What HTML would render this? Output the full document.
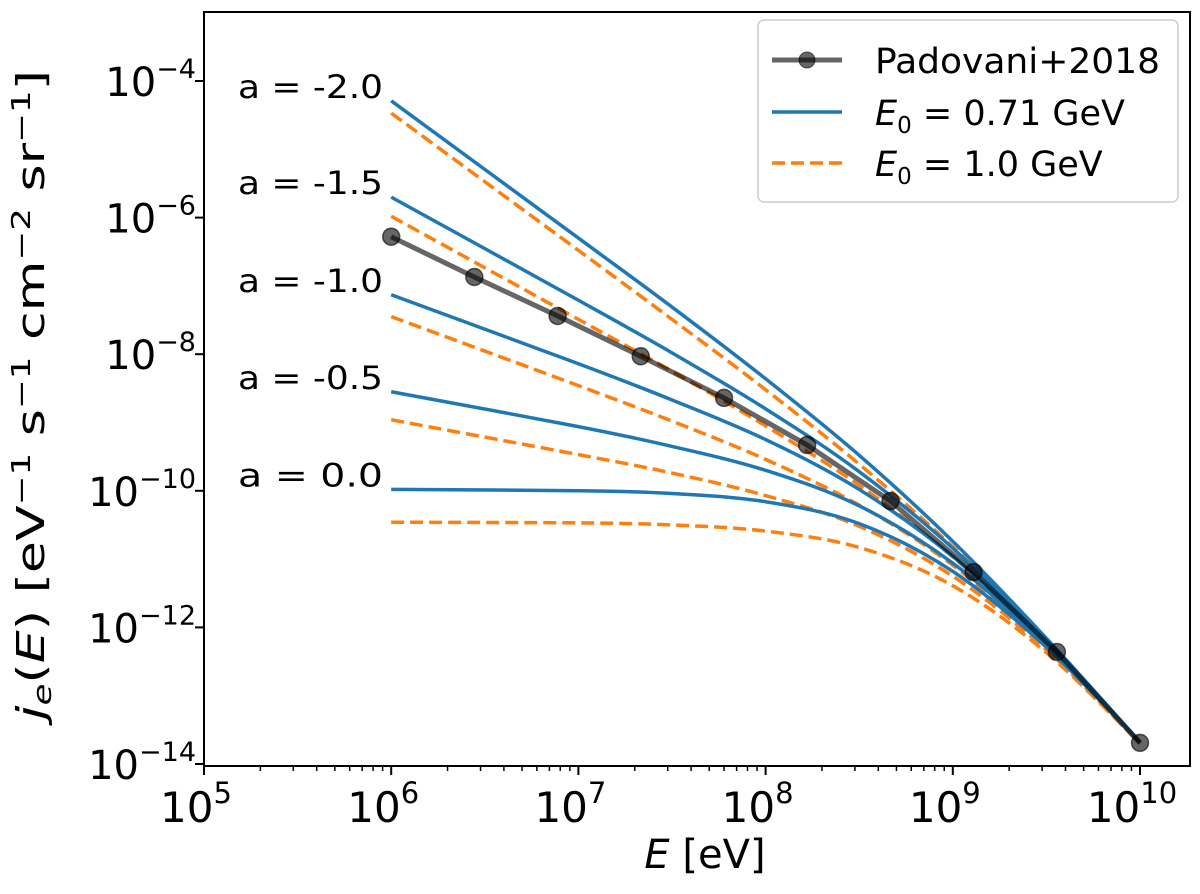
<!DOCTYPE html>
<html><head><meta charset="utf-8"><style>
body{margin:0;background:#fff}
svg{font-family:"DejaVu Sans","Liberation Sans",sans-serif}
</style></head><body>
<svg id="chart" width="1200" height="889" viewBox="0 0 1200 889" xmlns="http://www.w3.org/2000/svg">
<rect width="1200" height="889" fill="#fff"/>
<g id="plot"></g>
<g id="axes"></g>
<g id="legend">
  <rect x="758" y="20" width="420" height="182" rx="6" fill="#fff" fill-opacity="0.85" stroke="#ccc" stroke-width="1.5"/>
  <line x1="772" y1="60" x2="842" y2="60" stroke="#000" stroke-opacity="0.6" stroke-width="5"/>
  <circle cx="807" cy="60" r="8" fill="#000" fill-opacity="0.6" stroke="#000" stroke-opacity="0.6"/>
  <text x="875" y="73" font-size="35" textLength="285" lengthAdjust="spacingAndGlyphs">Padovani+2018</text>
  <line x1="772" y1="112" x2="842" y2="112" stroke="#1f77b4" stroke-width="3.5"/>
  <text x="875" y="125" font-size="35"><tspan font-style="italic">E</tspan><tspan font-size="23" dy="8">0</tspan><tspan dy="-8"> = 0.71 GeV</tspan></text>
  <line x1="772" y1="163" x2="842" y2="163" stroke="#ff7f0e" stroke-width="3.5" stroke-dasharray="13,6"/>
  <text x="875" y="176" font-size="35"><tspan font-style="italic">E</tspan><tspan font-size="23" dy="8">0</tspan><tspan dy="-8"> = 1.0 GeV</tspan></text>
</g>
<text x="705" y="868" font-size="40" text-anchor="middle"><tspan font-style="italic">E</tspan> [eV]</text>
<text transform="translate(44,395) rotate(-90)" font-size="38" text-anchor="middle" textLength="650" lengthAdjust="spacingAndGlyphs"><tspan font-style="italic">j</tspan><tspan font-style="italic" font-size="26" dy="7">e</tspan><tspan dy="-7">(</tspan><tspan font-style="italic">E</tspan>) [eV<tspan font-size="26" dy="-14">−1</tspan><tspan dy="14"> s</tspan><tspan font-size="26" dy="-14">−1</tspan><tspan dy="14"> cm</tspan><tspan font-size="26" dy="-14">−2</tspan><tspan dy="14"> sr</tspan><tspan font-size="26" dy="-14">−1</tspan><tspan dy="14">]</tspan></text>
</svg>
<script>
const xGrid = [6, 7, 7.5, 8, 8.5, 9, 9.5, 10];
const aLabels = ["a = -2.0", "a = -1.5", "a = -1.0", "a = -0.5", "a = 0.0"];
const blueA2 = [-4.29, -6.30, -7.31, -8.36, -9.48, -10.74, -12.16, -13.68];
const blueA15 = [-5.70, -7.21, -7.98, -8.80, -9.72, -10.84, -12.19, -13.68];
const blueA1 = [-7.13, -8.14, -8.67, -9.25, -9.98, -10.96, -12.22, -13.68];
const blueA05 = [-8.55, -9.06, -9.35, -9.70, -10.22, -11.06, -12.26, -13.68];
const blueA0 = [-9.98, -10.00, -10.04, -10.16, -10.48, -11.18, -12.29, -13.68];
const orangeA2 = [-4.47, -6.48, -7.49, -8.52, -9.61, -10.82, -12.19, -13.70];
const orangeA15 = [-5.98, -7.49, -8.25, -9.05, -9.92, -10.97, -12.24, -13.70];
const orangeA1 = [-7.45, -8.46, -8.98, -9.54, -10.21, -11.09, -12.28, -13.70];
const orangeA05 = [-8.96, -9.47, -9.74, -10.07, -10.52, -11.25, -12.33, -13.70];
const orangeA0 = [-10.46, -10.47, -10.50, -10.59, -10.83, -11.39, -12.37, -13.70];
const padX = [6, 6.444, 6.889, 7.333, 7.778, 8.222, 8.667, 9.111, 9.556, 10];
const padY = [-6.28, -6.87, -7.44, -8.03, -8.64, -9.33, -10.15, -11.19, -12.36, -13.69];
const xTicks = [5, 6, 7, 8, 9, 10];
const yTicks = [-4, -6, -8, -10, -12, -14];

const NS = "http://www.w3.org/2000/svg";
const L = 204, R = 1190, T = 12, B = 766;
const X = v => 204 + (v - 5) * 187.2;
const Y = v => 81 + (-4 - v) * 68.3;
function mk(tag, attrs, parent) { const e = document.createElementNS(NS, tag); for (const k in attrs) e.setAttribute(k, attrs[k]); parent.appendChild(e); return e; }
const plot = document.getElementById('plot'), axes = document.getElementById('axes');

function smoothPath(xs, ys) {
  const p = xs.map((x, i) => [X(x), Y(ys[i])]);
  let d = `M${p[0][0]},${p[0][1]}`;
  for (let i = 0; i < p.length - 1; i++) {
    const p0 = p[Math.max(0, i - 1)], p1 = p[i], p2 = p[i + 1], p3 = p[Math.min(p.length - 1, i + 2)];
    const c1 = [p1[0] + (p2[0] - p0[0]) / 6, p1[1] + (p2[1] - p0[1]) / 6];
    const c2 = [p2[0] - (p3[0] - p1[0]) / 6, p2[1] - (p3[1] - p1[1]) / 6];
    d += ` C${c1[0]},${c1[1]} ${c2[0]},${c2[1]} ${p2[0]},${p2[1]}`;
  }
  return d;
}
const blues = [blueA2, blueA15, blueA1, blueA05, blueA0];
const oranges = [orangeA2, orangeA15, orangeA1, orangeA05, orangeA0];
const names = ["a-neg2", "a-neg1-5", "a-neg1", "a-neg0-5", "a-0"];
oranges.forEach((s, i) => {
  const e = mk('path', { d: smoothPath(xGrid, s), fill: 'none', stroke: '#ff7f0e', 'stroke-width': 3.5, 'stroke-dasharray': '13,6' }, plot);
  
  
});
blues.forEach((s, i) => {
  const e = mk('path', { d: smoothPath(xGrid, s), fill: 'none', stroke: '#1f77b4', 'stroke-width': 3.5 }, plot);
  
  
});
const pl = mk('polyline', { points: padX.map((x, i) => X(x) + ',' + Y(padY[i])).join(' '), fill: 'none', stroke: '#000', 'stroke-opacity': 0.6, 'stroke-width': 5 }, plot);


padX.forEach((x, i) => {
  const c = mk('circle', { cx: X(x), cy: Y(padY[i]), r: 8.5, fill: '#000', 'fill-opacity': 0.6, stroke: '#000', 'stroke-opacity': 0.6, 'stroke-width': 1.5 }, plot);
  
  
});
aLabels.forEach((t, i) => {
  const e = mk('text', { x: 238, y: Y(blues[i][0]) - 3, 'font-size': 32, textLength: 145, lengthAdjust: 'spacingAndGlyphs' }, plot);
  e.textContent = t;
  
  
});
const fr = mk('rect', { x: L, y: T, width: R - L, height: B - T, fill: 'none', stroke: '#000', 'stroke-width': 2 }, axes);


xTicks.forEach(v => {
  const t = mk('line', { x1: X(v), x2: X(v), y1: B, y2: B + 9, stroke: '#000', 'stroke-width': 2 }, axes);
  
  
  const tx = mk('text', { x: X(v) - 8, y: B + 56, 'font-size': 42, 'text-anchor': 'middle' }, axes);
  
  
  tx.innerHTML = '10<tspan font-size="29" dy="-19">' + v + '</tspan>';
  for (let m = 2; m <= 9; m++) {
    const xm = X(v + Math.log10(m));
    if (xm > R) continue;
    const mt = mk('line', { x1: xm, x2: xm, y1: B, y2: B + 5, stroke: '#000', 'stroke-width': 1.5 }, axes);
    
    
  }
});
yTicks.forEach(v => {
  const t = mk('line', { x1: L - 9, x2: L, y1: Y(v), y2: Y(v), stroke: '#000', 'stroke-width': 2 }, axes);
  
  
  const tx = mk('text', { x: 196, y: Y(v) + 15, 'font-size': 40, 'text-anchor': 'end' }, axes);
  
  
  tx.innerHTML = '10<tspan font-size="27" dy="-18">−' + (-v) + '</tspan>';
});
</script>
</body></html>
